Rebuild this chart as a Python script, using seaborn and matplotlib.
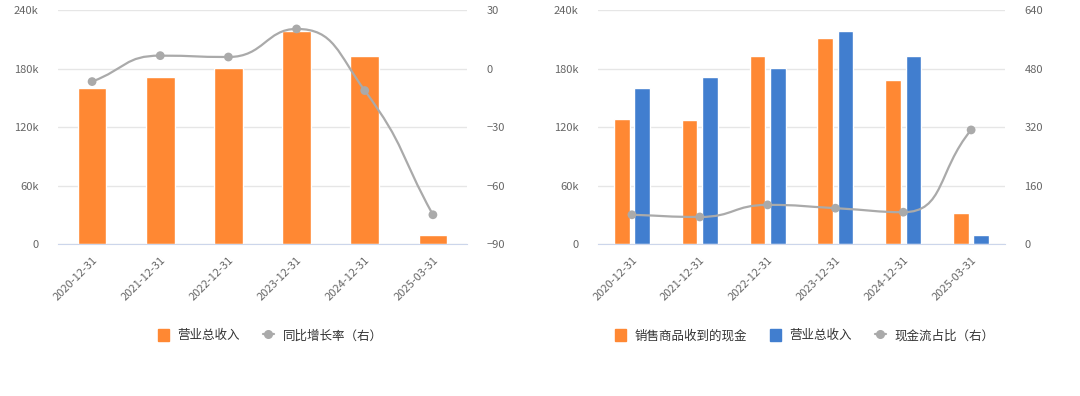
import numpy as np
import pandas as pd
import matplotlib.pyplot as plt
import seaborn as sns
from matplotlib.path import Path
from matplotlib.patches import PathPatch, Patch
from matplotlib.lines import Line2D
from matplotlib.ticker import FuncFormatter

sns.set_style("white")
plt.rcParams['font.family'] = ['Noto Sans CJK SC', 'DejaVu Sans']

# data
dates = ["2020-12-31", "2021-12-31", "2022-12-31", "2023-12-31", "2024-12-31", "2025-03-31"]
revenue = [160400, 171700, 181000, 218000, 193000, 9300]
yoy_growth = [-6.7, 6.6, 5.9, 20.3, -11.3, -75.0]
cash_from_sales = [128000, 126700, 193000, 211000, 168000, 31700]
cash_ratio = [80, 74, 107, 98, 87, 312]

ORANGE = "#FF8833"
BLUE = "#417ECF"
GRAY = "#AAAAAA"
TXT = "#666666"


def smooth_path(ax, xs, ys, smooth=0.5):
    # bezier through the points, control points clipped like echarts smooth lines
    pts = ax.transData.transform(np.column_stack([xs, ys]).astype(float))
    n = len(pts)
    cp_in = [None] * n
    cp_out = [None] * n
    for i in range(n):
        cur = pts[i]
        prev = pts[i - 1] if i > 0 else cur
        nxt = pts[i + 1] if i < n - 1 else cur
        if i == 0:
            cp_out[i] = cur + (nxt - cur) * smooth
            continue
        if i == n - 1:
            cp_in[i] = cur - (cur - prev) * smooth
            continue
        v = nxt - prev
        lp = np.hypot(*(cur - prev))
        ln = np.hypot(*(nxt - cur))
        r = ln / (lp + ln)
        c1 = cur + v * smooth * r
        c1 = np.minimum(c1, np.maximum(nxt, cur))
        c1 = np.maximum(c1, np.minimum(nxt, cur))
        c0 = cur - (c1 - cur) * lp / ln
        c0 = np.minimum(c0, np.maximum(prev, cur))
        c0 = np.maximum(c0, np.minimum(prev, cur))
        c1 = cur + (cur - c0) * ln / lp
        cp_in[i], cp_out[i] = c0, c1
    verts, codes = [pts[0]], [Path.MOVETO]
    for i in range(n - 1):
        verts += [cp_out[i], cp_in[i + 1], pts[i + 1]]
        codes += [Path.CURVE4] * 3
    inv = ax.transData.inverted()
    return Path(inv.transform(np.array(verts)), codes)


def style_axes(ax, ax2):
    ax.set_xlim(-0.5, len(dates) - 0.5)
    ax.set_ylim(0, 240000)
    ax.set_yticks(np.arange(0, 240001, 60000))
    ax.yaxis.set_major_formatter(FuncFormatter(lambda v, p: "0" if v == 0 else f"{int(v/1000)}k"))
    ax.grid(axis="y", color="#E6E6E6", linewidth=1)
    ax.set_axisbelow(True)
    for s in ["top", "right", "left"]:
        ax.spines[s].set_visible(False)
        ax2.spines[s].set_visible(False)
    ax2.spines["bottom"].set_visible(False)
    ax.spines["bottom"].set_color("#CCD6EB")
    ax.set_xlabel("")
    ax.set_ylabel("")
    ax2.set_ylabel("")
    ax.set_xticks(range(len(dates)))
    ax.set_xticklabels(dates, rotation=45, ha="right", rotation_mode="anchor",
                       fontsize=8, color=TXT)
    ax.set_xticks(np.arange(-0.5, len(dates), 1), minor=True)
    ax.tick_params(axis="x", which="major", length=0, pad=8)
    ax.tick_params(axis="x", which="minor", length=5, color="#CCD6EB", width=1)
    ax.tick_params(axis="y", length=0, labelsize=8, labelcolor=TXT, pad=14)
    ax2.tick_params(axis="y", length=0, labelsize=8, labelcolor=TXT, pad=14)


def draw_line(ax, ax2, values, ylim, yticks):
    ax2.set_xlim(-0.5, len(values) - 0.5)
    ax2.set_ylim(*ylim)
    ax2.set_yticks(yticks)
    x = np.arange(len(values))
    ax2.add_patch(PathPatch(smooth_path(ax2, x, values), facecolor="none",
                            edgecolor=GRAY, linewidth=1.6, zorder=3))
    sns.scatterplot(x=x, y=values, ax=ax2, color=GRAY, s=40,
                    edgecolor="none", zorder=4, legend=False)


fig = plt.figure(figsize=(10.8, 3.96), dpi=100)
axL = fig.add_axes([0.0537, 0.3838, 0.3787, 0.5909])
axR = fig.add_axes([0.5537, 0.3838, 0.3769, 0.5909])

# left chart
sns.barplot(x=dates, y=revenue, color=ORANGE, saturation=1, width=0.42, ax=axL)
axL.set_xlim(-0.5, len(dates) - 0.5)
axL2 = axL.twinx()
draw_line(axL, axL2, yoy_growth, (-90, 30), np.arange(-90, 31, 30))
style_axes(axL, axL2)

fig.legend(handles=[Patch(color=ORANGE, label="营业总收入"),
                    Line2D([], [], color=GRAY, lw=1.6, marker="o", ms=5.5, label="同比增长率（右）")],
           loc="center", bbox_to_anchor=(0.25, 0.152), ncol=2, frameon=False,
           fontsize=9, labelcolor="#333333", handlelength=0.9, handleheight=1.0,
           columnspacing=1.8, handletextpad=0.7)

# right chart
df = pd.DataFrame({
    "date": dates * 2,
    "value": cash_from_sales + revenue,
    "series": ["销售商品收到的现金"] * len(dates) + ["营业总收入"] * len(dates),
})
sns.barplot(data=df, x="date", y="value", hue="series",
            hue_order=["销售商品收到的现金", "营业总收入"],
            palette=[ORANGE, BLUE], saturation=1, width=0.6, gap=0.23,
            legend=False, ax=axR)
axR.set_xlim(-0.5, len(dates) - 0.5)
axR2 = axR.twinx()
draw_line(axR, axR2, cash_ratio, (0, 640), np.arange(0, 641, 160))
style_axes(axR, axR2)

fig.legend(handles=[Patch(color=ORANGE, label="销售商品收到的现金"),
                    Patch(color=BLUE, label="营业总收入"),
                    Line2D([], [], color=GRAY, lw=1.6, marker="o", ms=5.5, label="现金流占比（右）")],
           loc="center", bbox_to_anchor=(0.745, 0.152), ncol=3, frameon=False,
           fontsize=9, labelcolor="#333333", handlelength=0.9, handleheight=1.0,
           columnspacing=1.8, handletextpad=0.7)

fig.savefig("out.png", dpi=100)
